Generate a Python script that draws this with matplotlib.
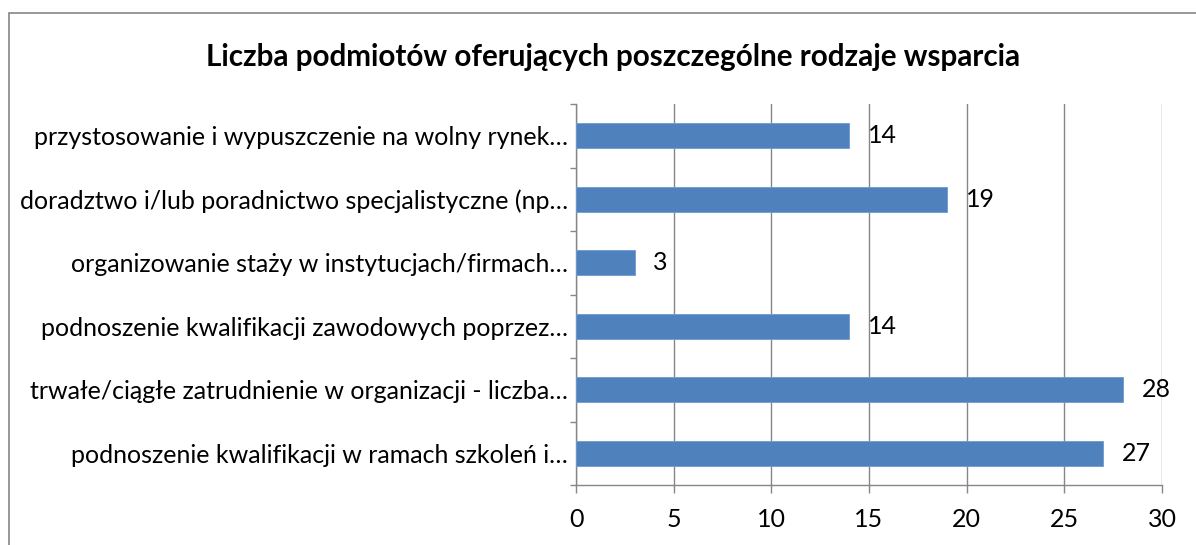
import matplotlib.pyplot as plt
from matplotlib.patches import Rectangle

plt.rcParams["font.family"] = ["Lato", "DejaVu Sans"]

# categories listed top to bottom as shown in the chart
categories = [
    "przystosowanie i wypuszczenie na wolny rynek…",
    "doradztwo i/lub poradnictwo specjalistyczne (np…",
    "organizowanie staży w instytucjach/firmach…",
    "podnoszenie kwalifikacji zawodowych poprzez…",
    "trwałe/ciągłe zatrudnienie w organizacji - liczba…",
    "podnoszenie kwalifikacji w ramach szkoleń i…",
]
counts = [14, 19, 3, 14, 28, 27]
x_ticks = [0, 5, 10, 15, 20, 25, 30]

title = "Liczba podmiotów oferujących poszczególne rodzaje wsparcia"

W, H = 1196, 545
fig = plt.figure(figsize=(W / 100, H / 100), dpi=100)
fig.patch.set_facecolor("white")

# outer chart border (runs off the right and bottom edges)
fig.patches.append(Rectangle((9 / W, -0.1), 1.2, 1 - 13 / H + 0.1,
                             transform=fig.transFigure, fill=False,
                             edgecolor="#868686", linewidth=1.2))

ax = fig.add_axes([576 / W, 1 - 485 / H, (1162 - 576) / W, (485 - 104) / H])

fs = 18.0
n = len(categories)
ypos = list(range(n))
ax.barh(ypos, counts, height=0.4, color="#4F81BD", edgecolor="#6F9AD0",
        linewidth=0.6, zorder=3)

for y, v in zip(ypos, counts):
    ax.text(v + 0.95, y, str(v), ha="left", va="center", fontsize=fs,
            color="black")

ax.set_xlim(0, 30)
ax.set_ylim(n - 0.5, -0.5)
ax.set_xticks(x_ticks)
ax.set_xticklabels([str(t) for t in x_ticks], fontsize=fs)
ax.xaxis.grid(True, color="#868686", linewidth=1.0, zorder=0)

# category ticks sit on boundaries between bars
ax.set_yticks([i - 0.5 for i in range(n + 1)])
ax.set_yticklabels([])
ax.set_yticks(ypos, minor=True)
ax.set_yticklabels(categories, minor=True, fontsize=fs)
ax.tick_params(axis="y", which="minor", length=0, pad=6)
ax.tick_params(axis="y", which="major", length=4.3, color="#868686", width=1.0)
ax.tick_params(axis="x", length=6, color="#868686", width=1.0, pad=10.5)

for side in ["top", "right"]:
    ax.spines[side].set_visible(False)
for side in ["left", "bottom"]:
    ax.spines[side].set_color("#868686")
    ax.spines[side].set_linewidth(1.0)

fig.text(613 / W, 1 - 57 / H, title, ha="center", va="center",
         fontsize=21.3, fontweight="bold")

fig.savefig("out.png", dpi=100, facecolor="white")
